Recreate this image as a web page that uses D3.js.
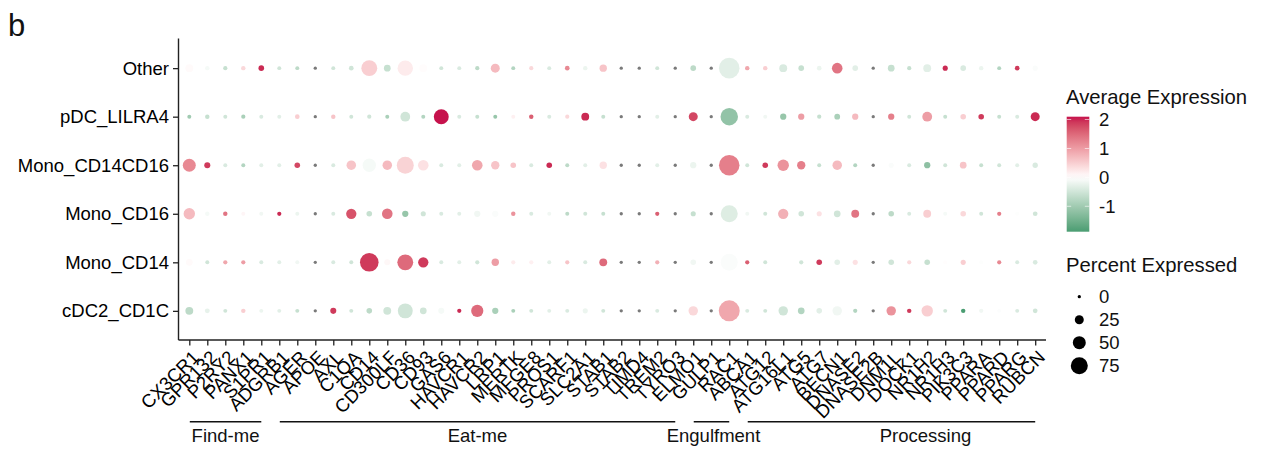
<!DOCTYPE html>
<html>
<head>
<meta charset="utf-8">
<script src="https://cdn.jsdelivr.net/npm/d3@7"></script>
<style>
  html, body { margin: 0; padding: 0; background: #fff; }
  svg { display: block; font-family: "Liberation Sans", Arial, Helvetica, sans-serif; }
</style>
</head>
<body>
<svg id="chart" width="1271" height="451"></svg>
<script>
// ---------------- DATA ----------------
const genes = ["CX3CR1","GPR132","P2RY2","PANX1","S1PR1",
  "ADGRB1","AGER","APOE","AXL","C1QA","CD14","CD300LF","CD36","CD93","GAS6","HAVCR1","HAVCR2","LRP1","MERTK","MFGE8","PROS1","SCARF1","SLC2A1","STAB1","STAB2","TIMD4","TREM2","TYRO3",
  "ELMO1","GULP1","RAC1",
  "ABCA1","ATG12","ATG16L1","ATG5","ATG7","BECN1","DNASE2","DNASE2B","DNM1L","DOCK1","NR1H2","NR1H3","PIK3C3","PPARA","PPARD","PPARG","RUBCN"];

const groupNames = ["Find-me","Eat-me","Engulfment","Processing"];
const groupSizes = [5, 23, 3, 17];

// top to bottom
const cellTypes = ["Other","pDC_LILRA4","Mono_CD14CD16","Mono_CD16","Mono_CD14","cDC2_CD1C"];

// Average (scaled) expression, null = not expressed (grey)
const avgOther = [0.05,-0.1,-0.6,0.4,2.0,-0.5,-0.7,null,-0.5,-0.5,0.5,-0.6,0.2,0.03,-0.5,-0.4,
  -0.7,0.7,-0.8,0.4,-0.4,1.2,-0.2,0.6,null,null,-0.5,null,-0.7,null,-0.3,0.9,
  0.5,-0.4,-0.6,-0.2,1.4,-0.3,null,-0.6,-0.6,-0.3,2.0,-0.4,-0.2,-0.8,1.9,-0.05];
const avgPDC = [-1.0,-0.6,-0.5,-0.9,-0.4,-0.3,0.5,null,0.6,-0.5,-0.5,-0.9,-0.5,-0.8,2.1,-0.4,
  -0.6,-1.1,0.15,1.6,-0.4,0.4,2.0,-0.6,null,null,-0.3,null,1.8,null,-1.15,-0.4,
  -0.15,-1.1,1.0,-0.6,-0.9,0.7,null,1.3,-0.5,1.0,-0.6,0.5,1.9,-0.6,-0.4,2.0];
const avgMonoCD14CD16 = [1.2,1.9,-0.4,-0.8,-0.3,-0.3,1.8,null,-0.4,0.6,-0.1,0.7,0.45,0.3,-0.4,-0.3,
  0.9,0.6,0.6,-0.4,2.0,-0.7,-0.3,0.3,null,null,-0.3,null,-0.2,null,1.3,-0.5,
  1.9,1.1,1.3,-0.6,0.7,-0.8,null,-0.05,-0.4,-1.2,-0.5,0.6,-0.6,-0.5,-0.3,-0.4];
const avgMonoCD16 = [0.7,-0.1,1.4,0.1,-0.15,2.0,-0.2,null,-0.4,1.7,-0.6,1.4,-1.1,-0.5,-0.4,-0.3,
  -0.15,-0.05,1.1,-0.4,-0.15,-0.7,-0.5,-0.6,null,null,1.6,null,-0.6,null,-0.35,-0.15,
  -0.5,0.8,-0.5,0.3,-0.5,1.4,null,-0.7,-0.4,0.5,-0.1,0.4,-0.5,1.3,-0.02,-0.5];
const avgMonoCD14 = [0.05,-0.5,0.9,1.0,-0.4,-0.3,-0.15,null,-0.4,-0.5,1.9,0.08,1.5,1.9,-0.4,-0.3,
  -0.5,1.0,0.2,0.15,-0.3,0.6,-0.4,1.5,null,null,0.8,null,-0.15,null,-0.05,1.6,
  -0.5,0,-0.5,1.9,-0.3,0.3,null,-0.5,0.4,-0.6,0.02,0.5,-0.02,1.2,-0.4,-0.4];
const avgCDC2 = [-0.7,-0.25,-0.5,0.5,-0.2,-0.3,-0.6,null,1.9,-0.5,-0.7,-0.5,-0.5,-0.5,-0.1,2.0,
  1.5,-0.9,-0.9,-0.5,-0.3,-0.4,-0.2,-0.5,null,null,-0.4,null,0.4,null,0.9,-0.4,
  -0.5,-0.5,-0.8,-0.3,-0.15,-0.8,null,1.1,1.9,0.5,-0.5,-1.88,-0.15,-0.03,-0.4,-0.5];

// Percent expressed
const pctOther = [20,5,4,5,10,3,3,0,3,6,68,15,65,20,3,3,
  4,25,3,4,3,6,5,18,0,0,3,0,10,0,97,5,
  5,20,10,6,35,10,0,15,4,20,8,10,5,3,6,8];
const pctPDC = [3,5,3,4,3,3,6,0,5,3,4,3,30,3,62,3,
  3,3,3,5,3,4,20,3,0,0,3,0,25,0,78,3,
  3,13,13,4,11,13,0,13,3,30,3,10,10,3,3,25];
const pctMonoCD14CD16 = [50,12,3,3,3,3,10,0,3,28,52,28,75,35,3,3,
  35,22,10,3,10,3,3,18,0,0,3,0,13,0,97,3,
  10,40,22,3,28,3,0,8,3,13,3,15,3,3,3,9];
const pctMonoCD16 = [40,5,5,3,3,4,3,0,3,33,10,35,13,8,3,3,
  13,13,5,3,3,3,3,3,0,0,4,0,8,0,75,3,
  3,33,10,8,15,20,0,10,3,20,3,10,3,4,3,6];
const pctMonoCD14 = [15,3,4,4,3,3,3,0,3,3,85,12,68,33,3,3,
  4,18,4,4,3,4,3,20,0,0,4,0,10,0,75,4,
  3,0,4,10,10,8,0,10,4,10,3,8,3,4,3,6];
const pctCDC2 = [20,7,3,5,3,3,3,0,12,3,10,20,62,15,12,4,
  45,13,3,3,3,3,8,3,0,0,3,0,28,0,100,3,
  3,28,15,10,28,4,0,28,5,40,3,5,4,3,3,6];

const avgRows = [avgOther, avgPDC, avgMonoCD14CD16, avgMonoCD16, avgMonoCD14, avgCDC2];
const pctRows = [pctOther, pctPDC, pctMonoCD14CD16, pctMonoCD16, pctMonoCD14, pctCDC2];

const colorTicks = [-1, 0, 1, 2];
const sizeTicks = [0, 25, 50, 75];

// ---------------- DRAW ----------------
const svg = d3.select("#chart");
const FONT = 18.5;

const points = [];
cellTypes.forEach((ct, i) => {
  genes.forEach((g, j) => {
    points.push({ cell: ct, gene: g, avg: avgRows[i][j], pct: pctRows[i][j] });
  });
});

const x = d3.scalePoint().domain(genes).range([178.5, 1046]).padding(0.6);
const y = d3.scalePoint().domain(cellTypes).range([39, 340]).padding(0.6);

const vals = points.filter(d => d.avg !== null).map(d => d.avg);
const vMin = d3.min(vals), vMax = d3.max(vals);
const color = d3.scaleLinear()
  .domain([vMin, 0, vMax])
  .range(["#4a9d72", "#ffffff", "#c6124c"])
  .interpolate(d3.interpolateLab);
const naColor = "#7a7a7a";

const r = d3.scaleLinear().domain([0, 25, 50, 75]).range([1.65, 4.5, 6.5, 8.5]);

// panel label
svg.append("text").attr("x", 8).attr("y", 36).attr("font-size", 31).attr("fill", "#111").text("b");

// dots
svg.append("g").selectAll("circle").data(points).join("circle")
  .attr("cx", d => x(d.gene))
  .attr("cy", d => y(d.cell))
  .attr("r", d => r(d.pct))
  .attr("fill", d => d.avg === null ? naColor : color(d.avg));

// axes
const axisColor = "#222";
const gy = svg.append("g").attr("transform", "translate(178.5,0)")
  .call(d3.axisLeft(y).tickSize(5.5).tickSizeOuter(0).tickPadding(4));
gy.select(".domain").attr("d", "M0,38.5V340").attr("stroke", axisColor).attr("stroke-width", 1.4);
gy.selectAll(".tick line").attr("stroke", axisColor).attr("stroke-width", 1.3);
gy.selectAll(".tick text").attr("font-size", FONT).attr("fill", "#000")
  .attr("font-family", "'Liberation Sans', Arial, sans-serif");

const gx = svg.append("g").attr("transform", "translate(0,340)")
  .call(d3.axisBottom(x).tickSize(5.5).tickSizeOuter(0));
gx.select(".domain").attr("d", "M178.5,0H1046").attr("stroke", axisColor).attr("stroke-width", 1.4);
gx.selectAll(".tick line").attr("stroke", axisColor).attr("stroke-width", 1.3);
gx.selectAll(".tick text")
  .attr("font-size", FONT).attr("fill", "#000")
  .attr("font-family", "'Liberation Sans', Arial, sans-serif")
  .attr("text-anchor", "end")
  .attr("y", 0).attr("dy", "0.72em")
  .attr("transform", "translate(1,9) rotate(-45)");

// group brackets (label shift = layout tweak matching the original figure)
const labelShift = [0, 0, 2, 34];
let start = 0;
const gb = svg.append("g");
groupNames.forEach((name, gi) => {
  const first = genes[start], last = genes[start + groupSizes[gi] - 1];
  const x0 = x(first) + 0.5, x1 = x(last);
  gb.append("line").attr("x1", x0).attr("x2", x1).attr("y1", 421.7).attr("y2", 421.7)
    .attr("stroke", "#111").attr("stroke-width", 1.5);
  gb.append("text").attr("x", (x0 + x1) / 2 + labelShift[gi]).attr("y", 442)
    .attr("text-anchor", "middle").attr("font-size", FONT).attr("fill", "#111").text(name);
  start += groupSizes[gi];
});

// ---------------- LEGENDS ----------------
const lg = svg.append("g");
lg.append("text").attr("x", 1066).attr("y", 104).attr("font-size", 20.3).attr("fill", "#111")
  .text("Average Expression");

const barX = 1066.7, barW = 22.6, barTop = 116.7, barBot = 231.7;
const cy = d3.scaleLinear().domain([vMin, vMax]).range([barBot, barTop]);
const defs = svg.append("defs");
const grad = defs.append("linearGradient").attr("id", "cbar")
  .attr("x1", 0).attr("x2", 0).attr("y1", 1).attr("y2", 0);
d3.range(0, 1.0001, 0.05).forEach(t => {
  grad.append("stop").attr("offset", t).attr("stop-color", color(vMin + t * (vMax - vMin)));
});
lg.append("rect").attr("x", barX).attr("y", barTop).attr("width", barW).attr("height", barBot - barTop)
  .attr("fill", "url(#cbar)");
colorTicks.forEach(v => {
  const yy = cy(v);
  lg.append("line").attr("x1", barX).attr("x2", barX + 4.5).attr("y1", yy).attr("y2", yy)
    .attr("stroke", "#fff").attr("stroke-width", 0.8).attr("opacity", 0.8);
  lg.append("line").attr("x1", barX + barW - 4.5).attr("x2", barX + barW).attr("y1", yy).attr("y2", yy)
    .attr("stroke", "#fff").attr("stroke-width", 0.8).attr("opacity", 0.8);
  lg.append("text").attr("x", 1099).attr("y", yy).attr("dy", "0.36em")
    .attr("font-size", FONT).attr("fill", "#111").text(v);
});

lg.append("text").attr("x", 1066).attr("y", 271.7).attr("font-size", 20.3).attr("fill", "#111")
  .text("Percent Expressed");
const sizeY = d3.scalePoint().domain(sizeTicks).range([296.7, 365.7]);
sizeTicks.forEach(p => {
  lg.append("circle").attr("cx", 1079.3).attr("cy", sizeY(p)).attr("r", r(p)).attr("fill", "#000");
  lg.append("text").attr("x", 1099).attr("y", sizeY(p)).attr("dy", "0.36em")
    .attr("font-size", FONT).attr("fill", "#111").text(p);
});
</script>
</body>
</html>
